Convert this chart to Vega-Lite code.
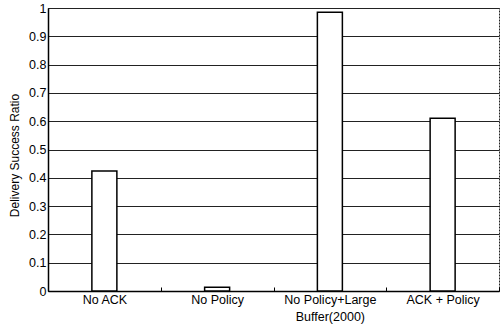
{
  "$schema": "https://vega.github.io/schema/vega-lite/v6.json",
  "width": 451,
  "height": 283,
  "autosize": {"type": "none"},
  "padding": {"left": 48, "top": 8, "right": 1, "bottom": 39},
  "background": "white",
  "config": {
    "view": {"stroke": "#222", "strokeWidth": 1, "strokeDash": [2, 1]},
    "font": "Liberation Sans"
  },
  "data": {
    "values": [
      {"scheme": "No ACK", "ratio": 0.424},
      {"scheme": "No Policy", "ratio": 0.013},
      {"scheme": "No Policy+Large|Buffer(2000)", "ratio": 0.985},
      {"scheme": "ACK + Policy", "ratio": 0.61}
    ]
  },
  "mark": {"type": "bar", "width": 25, "fill": "white", "stroke": "black", "strokeWidth": 1.5},
  "encoding": {
    "x": {
      "field": "scheme",
      "type": "nominal",
      "sort": null,
      "scale": {"paddingInner": 0, "paddingOuter": 0},
      "axis": {
        "title": null,
        "labelAngle": 0,
        "labelExpr": "split(datum.label, '|')",
        "labelFontSize": 12.5,
        "labelColor": "black",
        "labelPadding": 6,
        "labelLineHeight": 17,
        "tickBand": "extent",
        "tickSize": -4,
        "tickColor": "black",
        "ticks": true,
        "domainColor": "black",
        "domainWidth": 1.5,
        "grid": false
      }
    },
    "y": {
      "field": "ratio",
      "type": "quantitative",
      "scale": {"domain": [0, 1], "nice": false},
      "axis": {
        "title": "Delivery Success Ratio",
        "titleFontSize": 12,
        "titleFontWeight": "normal",
        "titleColor": "black",
        "titlePadding": 7,
        "titleY": 147,
        "values": [0, 0.1, 0.2, 0.3, 0.4, 0.5, 0.6, 0.7, 0.8, 0.9, 1],
        "format": "~g",
        "labelFontSize": 12.5,
        "labelColor": "black",
        "labelPadding": 2,
        "ticks": false,
        "domainColor": "black",
        "domainWidth": 1.5,
        "grid": true,
        "gridColor": "#222",
        "gridWidth": 1,
        "gridOpacity": 1
      }
    }
  }
}
